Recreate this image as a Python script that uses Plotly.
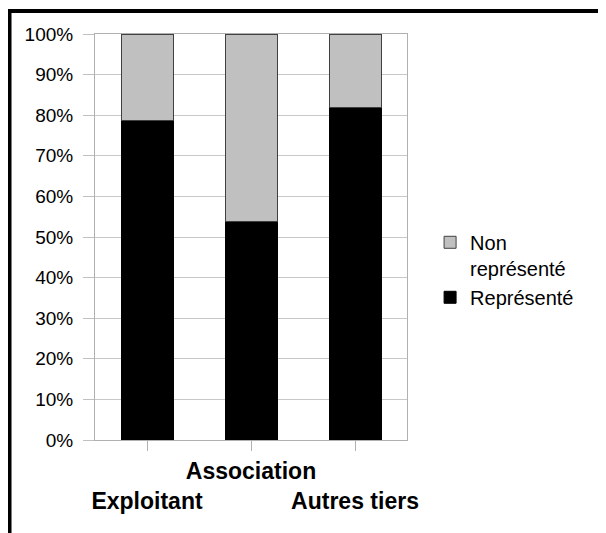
import plotly.graph_objects as go

categories = ["Exploitant", "Association", "Autres tiers"]
tick_labels = ["<b> <br>Exploitant</b>", "<b>Association</b>", "<b> <br>Autres tiers</b>"]
represente = [78.8, 53.8, 81.9]
non_represente = [21.2, 46.2, 18.1]
y_ticks = [0, 10, 20, 30, 40, 50, 60, 70, 80, 90, 100]
y_tick_labels = [f"{v}%" for v in y_ticks]

FONT = "Liberation Sans, Arial, sans-serif"

fig = go.Figure()
fig.add_trace(go.Bar(
    x=categories, y=represente, name="Représenté",
    marker=dict(color="#000000", line=dict(color="#000000", width=1)),
    width=0.5,
))
fig.add_trace(go.Bar(
    x=categories, y=non_represente, name="Non<br>représenté",
    marker=dict(color="#c0c0c0", line=dict(color="#404040", width=1)),
    width=0.5,
))

fig.update_layout(
    barmode="stack",
    width=598, height=525,
    margin=dict(l=87, r=199, t=26, b=93, autoexpand=False),
    paper_bgcolor="white", plot_bgcolor="white",
    font=dict(family=FONT, color="black", size=19),
    showlegend=True,
    legend=dict(
        x=1.074, y=0.535, xanchor="left", yanchor="top",
        traceorder="reversed", valign="top",
        font=dict(family=FONT, size=20, color="black"),
        itemwidth=30, tracegroupgap=0,
        bgcolor="rgba(0,0,0,0)",
    ),
    xaxis=dict(
        tickmode="array", tickvals=categories, ticktext=tick_labels,
        tickfont=dict(family=FONT, size=23, color="black"),
        tickangle=0, automargin=False,
        ticks="outside", ticklen=10, tickcolor="#b0b0b0",
        showline=True, linecolor="#b0b0b0", linewidth=1, mirror=True,
        showgrid=False,
    ),
    yaxis=dict(
        range=[0, 100], automargin=False,
        tickmode="array", tickvals=y_ticks, ticktext=y_tick_labels,
        tickfont=dict(family=FONT, size=19, color="black"),
        ticks="outside", ticklen=11, tickcolor="#c0c0c0",
        ticklabelstandoff=6,
        showline=True, linecolor="#b0b0b0", linewidth=1, mirror=True,
        showgrid=True, gridcolor="#c8c8c8", gridwidth=1,
        zeroline=False,
    ),
    shapes=[
        dict(type="line", xref="paper", yref="paper",
             x0=-0.274, x1=1.7, y0=1.0567, y1=1.0567,
             line=dict(color="black", width=4)),
        dict(type="line", xref="paper", yref="paper",
             x0=-0.274, x1=-0.274, y0=1.0617, y1=-0.3,
             line=dict(color="black", width=4)),
    ],
)

fig.write_html("out.html")
